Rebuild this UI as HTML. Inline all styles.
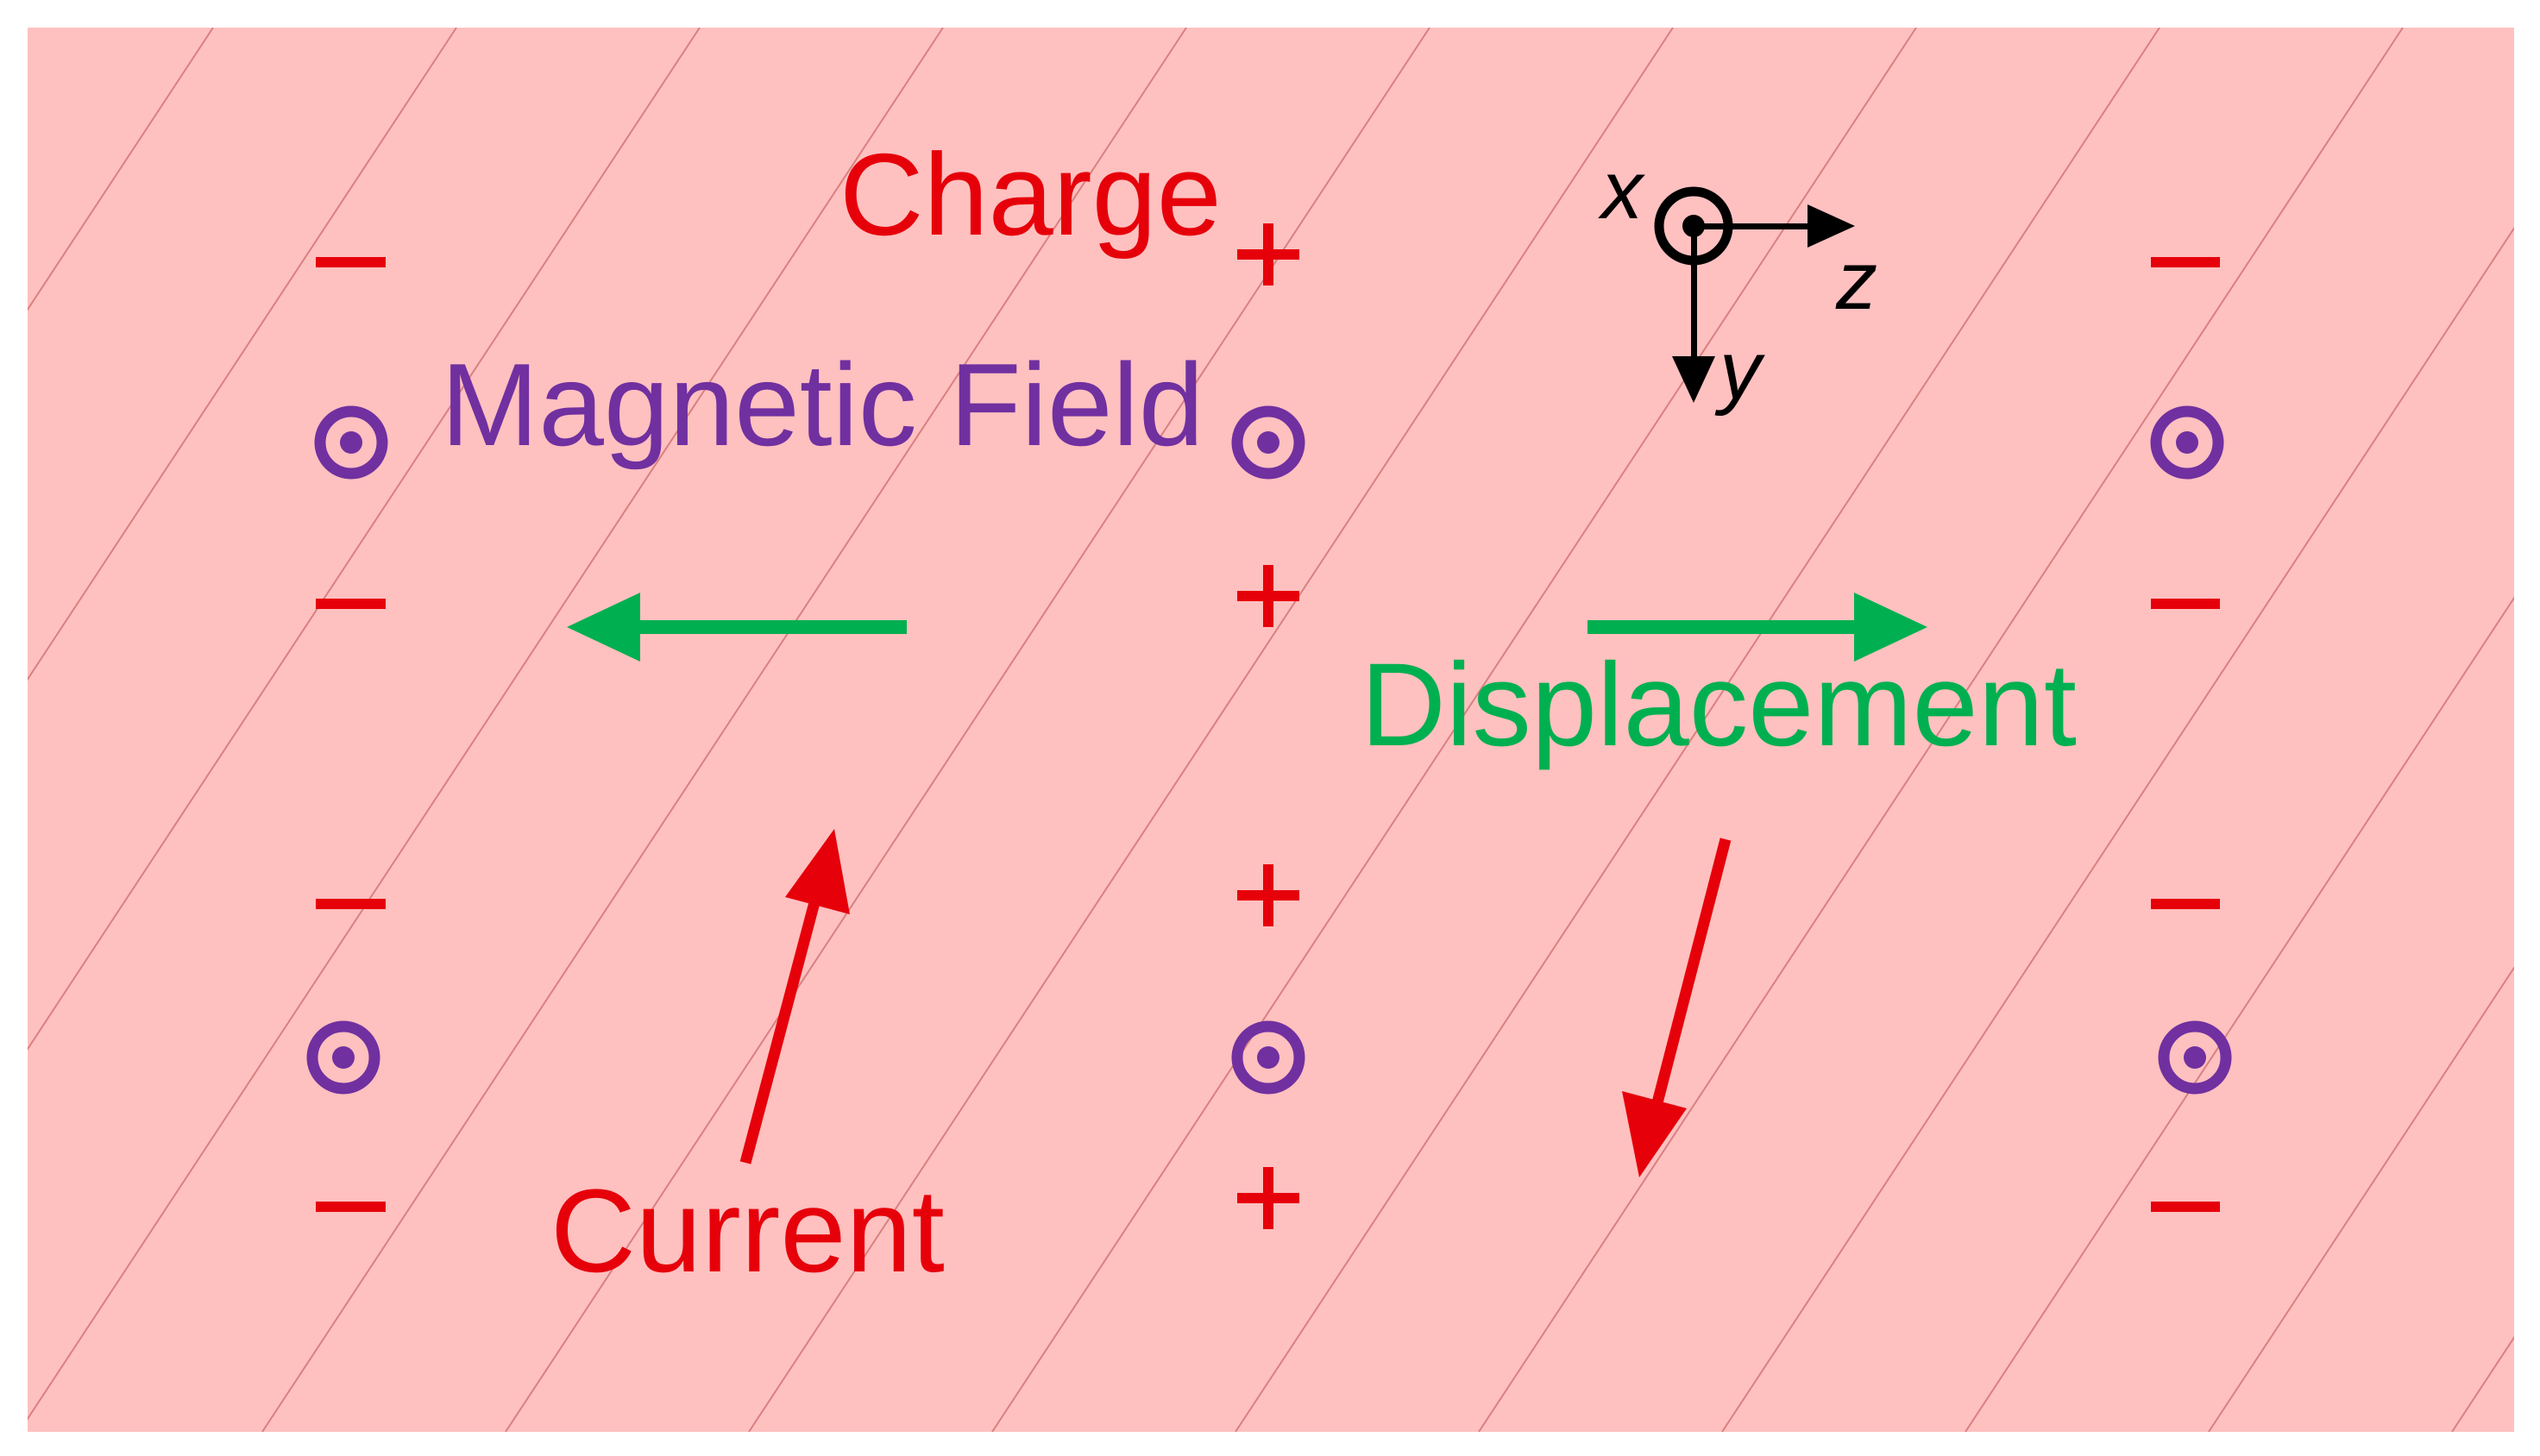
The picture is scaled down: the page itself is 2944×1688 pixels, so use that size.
<!DOCTYPE html>
<html><head><style>html,body{margin:0;padding:0;background:#fff}svg{display:block}</style></head>
<body>
<svg width="2944" height="1688" viewBox="0 0 2944 1688" xmlns="http://www.w3.org/2000/svg">
<defs><clipPath id="c"><rect x="32" y="32" width="2882" height="1628"/></clipPath></defs>
<rect width="2944" height="1688" fill="#fff"/>
<rect x="32" y="32" width="2882" height="1628" fill="#ffc0c0"/>
<g clip-path="url(#c)" stroke="#d98080" stroke-width="2">
<line x1="-35" y1="32" x2="-1106" y2="1660"/>
<line x1="247" y1="32" x2="-824" y2="1660"/>
<line x1="529" y1="32" x2="-542" y2="1660"/>
<line x1="811" y1="32" x2="-260" y2="1660"/>
<line x1="1093" y1="32" x2="22" y2="1660"/>
<line x1="1375" y1="32" x2="304" y2="1660"/>
<line x1="1657" y1="32" x2="586" y2="1660"/>
<line x1="1939" y1="32" x2="868" y2="1660"/>
<line x1="2221" y1="32" x2="1150" y2="1660"/>
<line x1="2503" y1="32" x2="1432" y2="1660"/>
<line x1="2785" y1="32" x2="1714" y2="1660"/>
<line x1="3067" y1="32" x2="1996" y2="1660"/>
<line x1="3349" y1="32" x2="2278" y2="1660"/>
<line x1="3631" y1="32" x2="2560" y2="1660"/>
<line x1="3913" y1="32" x2="2842" y2="1660"/>
<line x1="4195" y1="32" x2="3124" y2="1660"/>
<line x1="-317" y1="32" x2="-1388" y2="1660"/>
<line x1="-599" y1="32" x2="-1670" y2="1660"/>
</g>
<g font-family="Liberation Sans, sans-serif">
<text x="973" y="272" font-size="135" fill="#e6000a">Charge</text>
<text x="511" y="516" font-size="136" fill="#7030a0">Magnetic Field</text>
<text x="1577" y="864" font-size="137" fill="#00b050">Displacement</text>
<text x="638" y="1474" font-size="137" fill="#e6000a">Current</text>
</g>
<g fill="#e6000a">
<rect x="366" y="298" width="81" height="12"/><rect x="366" y="694" width="81" height="12"/>
<rect x="366" y="1042" width="81" height="12"/><rect x="366" y="1393" width="81" height="12"/>
<rect x="2493" y="298" width="80" height="12"/><rect x="2493" y="694" width="80" height="12"/>
<rect x="2493" y="1042" width="80" height="12"/><rect x="2493" y="1393" width="80" height="12"/>
<path d="M1434 289h72v12h-72zM1464 259h12v72h-12z"/>
<path d="M1434 685h72v12h-72zM1464 655h12v72h-12z"/>
<path d="M1434 1032h72v12h-72zM1464 1002h12v72h-12z"/>
<path d="M1434 1383h72v12h-72zM1464 1353h12v72h-12z"/>
</g>
<g stroke="#7030a0" stroke-width="13" fill="none">
<circle cx="407" cy="513" r="36"/><circle cx="398" cy="1226" r="36"/>
<circle cx="1470" cy="513" r="36"/><circle cx="1470" cy="1226" r="36"/>
<circle cx="2535" cy="513" r="36"/><circle cx="2544" cy="1226" r="36"/>
</g>
<g fill="#7030a0">
<circle cx="407" cy="513" r="13"/><circle cx="398" cy="1226" r="13"/>
<circle cx="1470" cy="513" r="13"/><circle cx="1470" cy="1226" r="13"/>
<circle cx="2535" cy="513" r="13"/><circle cx="2544" cy="1226" r="13"/>
</g>
<g fill="#00b050">
<rect x="730" y="719" width="321" height="16"/>
<polygon points="657,727 742,687 742,767"/>
<rect x="1840" y="719" width="315" height="16"/>
<polygon points="2234,727 2149,687 2149,767"/>
</g>
<g stroke="#e6000a" stroke-width="13">
<line x1="864" y1="1348" x2="947" y2="1035"/>
<line x1="2000" y1="973" x2="1918" y2="1290"/>
</g>
<g fill="#e6000a">
<polygon points="967,961 985,1060 910,1040"/>
<polygon points="1900,1365 1880,1265 1955,1285"/>
</g>
<g>
<circle cx="1963" cy="262" r="40" fill="none" stroke="#000" stroke-width="11"/>
<circle cx="1963" cy="262" r="13" fill="#000"/>
<rect x="1963" y="259" width="135" height="7" fill="#000"/>
<polygon points="2150,262 2095,237 2095,287" fill="#000"/>
<rect x="1960" y="262" width="7" height="155" fill="#000"/>
<polygon points="1963,467 1938,413 1988,413" fill="#000"/>
<text x="1856" y="253" font-family="Liberation Sans, sans-serif" font-style="italic" font-size="96" fill="#000">x</text>
<text x="2128" y="358" font-family="Liberation Sans, sans-serif" font-style="italic" font-size="96" fill="#000">z</text>
<text x="1993" y="462" font-family="Liberation Sans, sans-serif" font-style="italic" font-size="96" fill="#000">y</text>
</g>
</svg>
</body></html>
